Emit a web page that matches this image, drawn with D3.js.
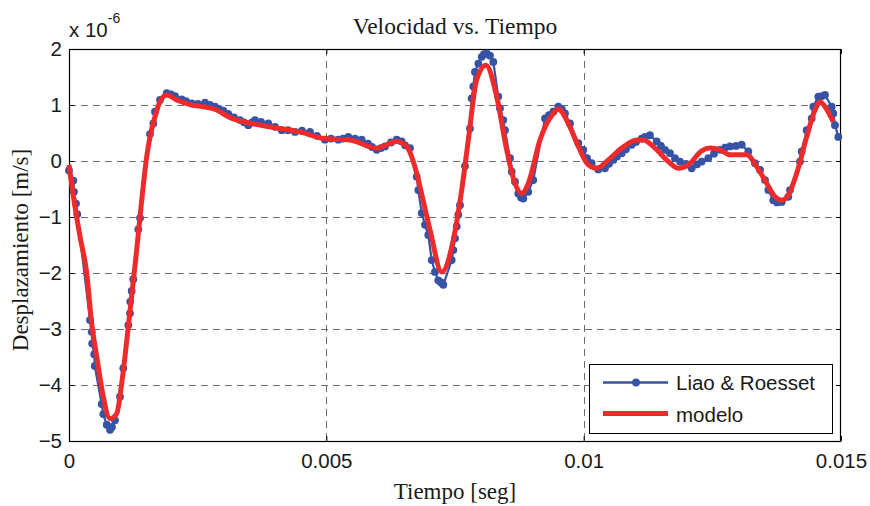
<!DOCTYPE html>
<html><head><meta charset="utf-8">
<script src="https://cdn.jsdelivr.net/npm/d3@7"></script>
<style>body{margin:0;background:#fff}svg{display:block}</style>
</head><body>
<svg id="c" width="870" height="506"></svg>
<script>
// Reference series "Liao & Roesset": time [ms], velocity [x1e-6 m/s]
const liaoT = [0,0.084,0.097,0.136,0.161,0.408,0.441,0.45,0.49,0.50,0.635,0.666,0.733,0.797,0.835,0.894,0.991,1.055,1.152,1.185,1.19,1.218,1.249,1.346,1.380,1.574,1.638,1.671,1.768,1.898,1.982,2.060,2.190,2.273,2.384,2.506,2.643,2.740,2.837,2.915,2.998,3.095,3.206,3.322,3.400,3.484,3.556,3.614,3.731,3.872,4.003,4.133,4.255,4.391,4.527,4.683,4.819,4.974,5.091,5.233,5.324,5.427,5.557,5.687,5.810,5.887,5.979,6.062,6.140,6.256,6.367,6.464,6.529,6.626,6.756,6.787,6.853,6.917,6.981,7.047,7.111,7.175,7.228,7.273,7.436,7.467,7.500,7.533,7.564,7.597,7.694,7.791,7.824,7.856,7.888,7.953,8.019,8.063,8.116,8.180,8.244,8.341,8.374,8.438,8.471,8.569,8.602,8.666,8.730,8.783,8.827,8.924,9.021,9.249,9.326,9.410,9.507,9.579,9.637,9.734,9.896,9.993,10.065,10.156,10.284,10.414,10.492,10.576,10.647,10.739,10.822,10.933,11.017,11.127,11.191,11.288,11.419,11.502,11.580,11.677,11.774,11.871,11.988,12.099,12.202,12.293,12.421,12.532,12.649,12.746,12.843,12.960,13.071,13.199,13.329,13.427,13.524,13.588,13.685,13.757,13.848,13.976,14.009,14.203,14.236,14.333,14.431,14.462,14.559,14.631,14.689,14.819,14.850,14.883,14.948];
const liaoV = [-0.17,-0.35,-0.55,-0.76,-0.95,-2.84,-3.05,-3.26,-3.45,-3.66,-4.34,-4.52,-4.71,-4.80,-4.75,-4.63,-4.21,-3.70,-2.93,-2.72,-2.51,-2.32,-2.11,-1.22,-1.02,0.48,0.67,0.88,1.09,1.21,1.19,1.16,1.10,1.07,1.03,1.02,1.04,1.00,0.97,0.93,0.90,0.84,0.78,0.73,0.69,0.64,0.69,0.73,0.70,0.67,0.61,0.55,0.55,0.52,0.54,0.52,0.45,0.38,0.40,0.38,0.40,0.43,0.40,0.38,0.31,0.25,0.20,0.23,0.26,0.33,0.38,0.35,0.28,0.23,-0.28,-0.52,-0.93,-1.14,-1.32,-1.77,-1.98,-2.13,-2.17,-2.21,-1.77,-1.59,-1.38,-1.17,-0.96,-0.79,-0.09,0.58,1.12,1.33,1.59,1.74,1.86,1.91,1.92,1.88,1.77,1.15,0.94,0.73,0.55,0.05,-0.19,-0.37,-0.58,-0.65,-0.67,-0.55,-0.34,0.76,0.82,0.88,0.97,0.92,0.85,0.67,0.32,0.20,0.05,-0.04,-0.15,-0.13,-0.05,0.02,0.08,0.14,0.21,0.29,0.34,0.40,0.43,0.46,0.35,0.27,0.20,0.14,0.05,-0.01,-0.05,-0.13,-0.06,-0.01,0.05,0.13,0.20,0.24,0.26,0.27,0.29,0.17,-0.04,-0.16,-0.34,-0.52,-0.70,-0.74,-0.73,-0.64,-0.52,-0.01,0.17,0.55,0.76,0.97,1.15,1.16,1.18,0.97,0.85,0.64,0.43];
// Model series "modelo"
const modelT = [0,0.117,0.214,0.344,0.441,0.538,0.666,0.797,0.927,1.024,1.152,1.315,1.413,1.510,1.574,1.671,1.768,1.898,2.093,2.384,2.609,2.870,3.095,3.711,4.488,4.974,5.460,5.979,6.367,6.561,6.756,6.820,7.014,7.242,7.467,7.630,7.759,7.921,8.102,8.310,8.504,8.666,8.796,8.924,9.151,9.410,9.507,9.702,9.896,10.090,10.253,10.479,10.739,11.030,11.159,11.386,11.645,11.839,12.033,12.293,12.455,12.649,12.843,13.168,13.362,13.556,13.718,13.848,13.976,14.139,14.333,14.495,14.592,14.689,14.850];
const modelV = [-0.07,-0.82,-1.35,-2.00,-2.90,-3.49,-4.21,-4.60,-4.51,-3.97,-2.96,-1.59,-0.70,0.08,0.43,0.79,1.06,1.18,1.09,1.00,0.97,0.91,0.79,0.64,0.52,0.40,0.375,0.23,0.35,0.26,-0.22,-0.46,-1.23,-1.98,-1.41,-0.52,0.375,1.45,1.71,1.15,0.20,-0.40,-0.58,-0.40,0.375,0.85,0.93,0.67,0.26,-0.07,-0.13,0.02,0.23,0.375,0.375,0.23,-0.01,-0.13,-0.07,0.18,0.23,0.20,0.11,0.11,-0.10,-0.40,-0.64,-0.70,-0.61,-0.22,0.43,0.91,1.06,0.97,0.70];
const xTicks = [0, 0.005, 0.01, 0.015];
const xTickLabels = ["0", "0.005", "0.01", "0.015"];
const yTicks = [-5, -4, -3, -2, -1, 0, 1, 2];
const seriesNames = ["Liao & Roesset", "modelo"];
const titleText = "Velocidad vs. Tiempo";
const xLabelText = "Tiempo [seg]";
const yLabelText = "Desplazamiento [m/s]";

const liao = liaoT.map((t, i) => ({t: t / 1000, v: liaoV[i]}));
const model = modelT.map((t, i) => ({t: t / 1000, v: modelV[i]}));

const L = 69, R = 841, T = 49, B = 441;
const blue = "#3653a5", red = "#ee2b2b";
const svg = d3.select("#c");
const x = d3.scaleLinear().domain([0, 0.015]).range([L, R]);
const y = d3.scaleLinear().domain([-5, 2]).range([B, T]);

// grid
const g = svg.append("g");
g.selectAll(".gx").data(xTicks.slice(1, -1)).join("line")
  .attr("x1", d => Math.round(x(d)) + 0.5).attr("x2", d => Math.round(x(d)) + 0.5)
  .attr("y1", T).attr("y2", B)
  .attr("stroke", "#6e6e6e").attr("stroke-width", 1).attr("stroke-dasharray", "7,5");
g.selectAll(".gy").data(yTicks.slice(1, -1).concat([2])).join("line")
  .attr("y1", d => Math.round(y(d)) + 0.5).attr("y2", d => Math.round(y(d)) + 0.5)
  .attr("x1", L).attr("x2", R)
  .attr("stroke", "#6e6e6e").attr("stroke-width", 1).attr("stroke-dasharray", "7,5");

// axes with ticks on all sides
const tickFont = "'Liberation Sans', Arial, sans-serif";
const fs = "20.5px";
const axB = d3.axisBottom(x).tickValues(xTicks).tickSize(-5).tickPadding(12).tickFormat((d, i) => xTickLabels[i]);
const axT = d3.axisTop(x).tickValues(xTicks).tickSize(-5).tickFormat("");
const axL = d3.axisLeft(y).tickValues(yTicks).tickSize(-5).tickPadding(7).tickFormat(d3.format("d"));
const axR = d3.axisRight(y).tickValues(yTicks).tickSize(-5).tickFormat("");
function style(sel) {
  sel.select(".domain").remove();
  sel.selectAll("line").attr("stroke", "#000");
  sel.selectAll("text").attr("fill", "#1a1a1a").style("font-family", tickFont).style("font-size", fs);
}
svg.append("g").attr("transform", `translate(0,${B})`).call(axB).call(style);
svg.append("g").attr("transform", `translate(0,${T})`).call(axT).call(style);
svg.append("g").attr("transform", `translate(${L},0)`).call(axL).call(style);
svg.append("g").attr("transform", `translate(${R},0)`).call(axR).call(style);
svg.append("rect").attr("x", L + 0.5).attr("y", T + 0.5).attr("width", R - L - 1).attr("height", B - T)
  .attr("fill", "none").attr("stroke", "#000").attr("stroke-width", 1.2);

// data
const plot = svg.append("g");
const lineB = d3.line().x(d => x(d.t)).y(d => y(d.v));
plot.append("path").datum(liao).attr("d", lineB).attr("fill", "none").attr("stroke", blue).attr("stroke-width", 2.2);
plot.selectAll(".dot").data(liao).join("circle").attr("cx", d => x(d.t)).attr("cy", d => y(d.v)).attr("r", 3.9).attr("fill", blue);
const lineR = d3.line().curve(d3.curveMonotoneX).x(d => x(d.t)).y(d => y(d.v));
plot.append("path").datum(model).attr("d", lineR).attr("fill", "none").attr("stroke", red).attr("stroke-width", 5).attr("stroke-linejoin", "round");

// exponent label
const ex = svg.append("text").attr("x", 69).attr("y", 37).attr("fill", "#1a1a1a")
  .style("font-family", tickFont).style("font-size", fs);
ex.append("tspan").text("x 10");
ex.append("tspan").attr("dy", -14).style("font-size", "14px").text("-6");

// titles
const serif = "'Liberation Serif', 'Times New Roman', serif";
svg.append("text").attr("x", 455).attr("y", 34).attr("text-anchor", "middle").attr("fill", "#1a1a1a")
  .style("font-family", serif).style("font-size", "23.5px").text(titleText);
svg.append("text").attr("x", 455).attr("y", 499).attr("text-anchor", "middle").attr("fill", "#1a1a1a")
  .style("font-family", serif).style("font-size", "23px").text(xLabelText);
svg.append("text").attr("transform", "translate(28,250) rotate(-90)").attr("text-anchor", "middle").attr("fill", "#1a1a1a")
  .style("font-family", serif).style("font-size", "23px").text(yLabelText);

// legend
const lg = svg.append("g");
lg.append("rect").attr("x", 589.5).attr("y", 364.5).attr("width", 243).attr("height", 69)
  .attr("fill", "#fff").attr("stroke", "#000").attr("stroke-width", 1);
lg.append("line").attr("x1", 603).attr("x2", 668).attr("y1", 382.5).attr("y2", 382.5).attr("stroke", blue).attr("stroke-width", 2.6);
lg.append("circle").attr("cx", 636).attr("cy", 382.5).attr("r", 3.9).attr("fill", blue);
lg.append("line").attr("x1", 603).attr("x2", 668).attr("y1", 413.5).attr("y2", 413.5).attr("stroke", red).attr("stroke-width", 5);
lg.selectAll(".lt").data(seriesNames).join("text").attr("x", 676).attr("y", (d, i) => 390 + i * 31.5)
  .attr("fill", "#1a1a1a").style("font-family", tickFont).style("font-size", fs).text(d => d);
</script>
</body></html>
